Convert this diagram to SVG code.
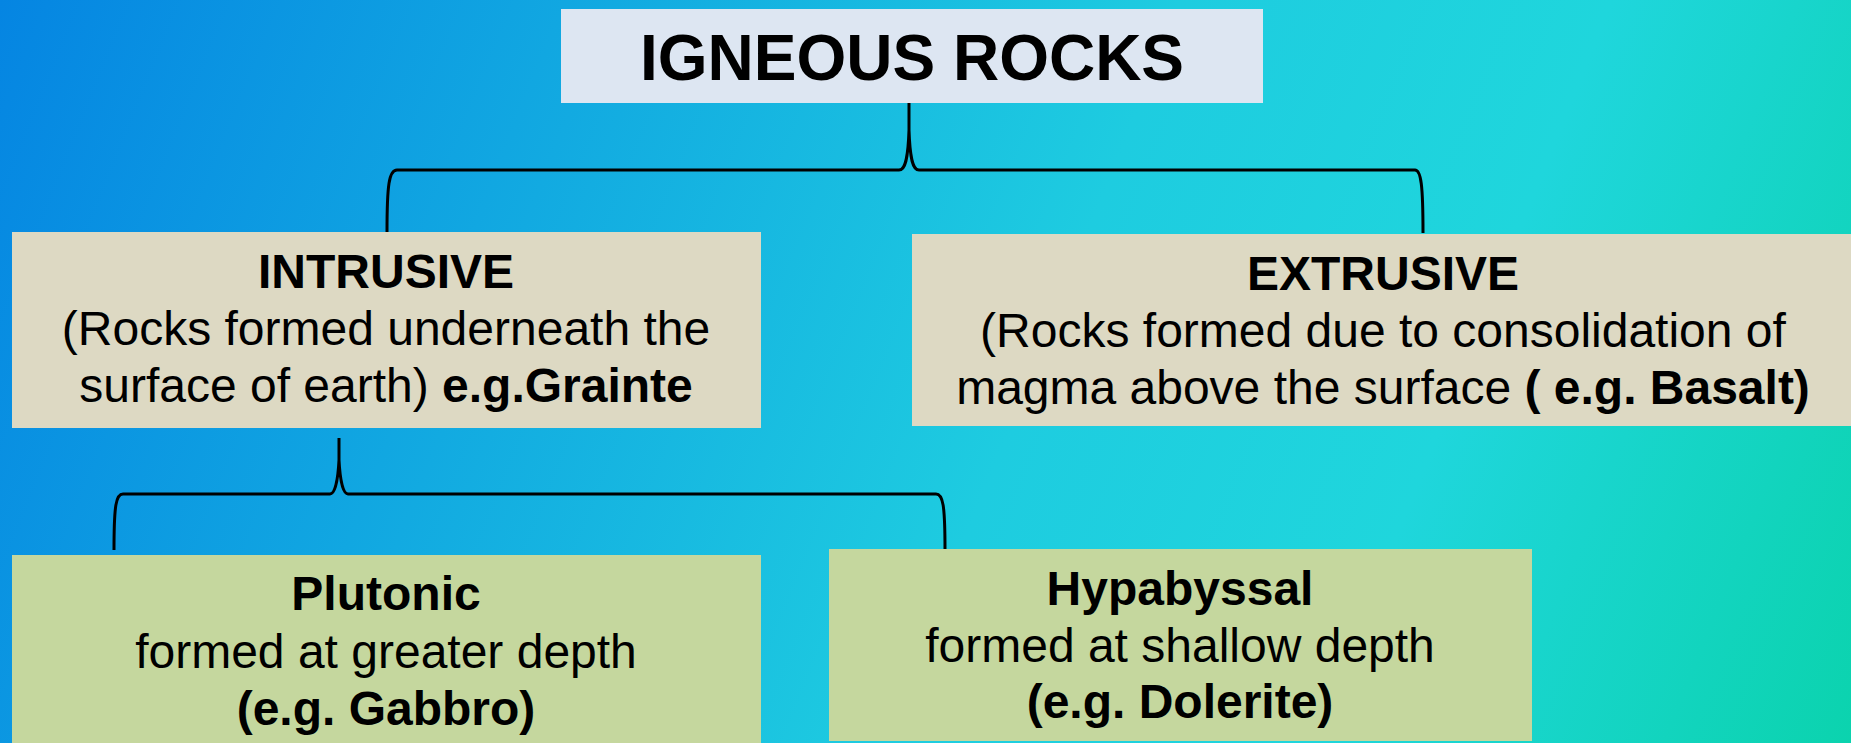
<svg xmlns="http://www.w3.org/2000/svg" width="1851" height="743" viewBox="0 0 1851 743">
<defs>
<linearGradient id="bg" x1="0" y1="0" x2="1851" y2="743" gradientUnits="userSpaceOnUse">
<stop offset="0" stop-color="#0585e2"/>
<stop offset="0.55" stop-color="#1ecce0"/>
<stop offset="0.75" stop-color="#1fd6dc"/>
<stop offset="1" stop-color="#0bd3ae"/>
</linearGradient>
<style>
text{font-family:"Liberation Sans",Arial,sans-serif;fill:#000;text-anchor:middle}
.t{font-size:64px;font-weight:bold}
.h{font-size:48px;font-weight:bold}
.b{font-size:48px}
.bo{font-weight:bold}
.beige{fill:#ddd9c3}
.green{fill:#c5d79e}
.brace{fill:none;stroke:#000;stroke-width:3}
</style>
</defs>
<rect width="1851" height="743" fill="url(#bg)"/>
<g id="connectors">
<path class="brace" d="M387 232 C387 185 389 170 397 170 L899 170 C905 170 908 160 909 130 L909 103 M909 130 C910 160 913 170 919 170 L1415 170 C1421 170 1423 185 1423 233"/>
<path class="brace" d="M114 550 C114 505 116 494 123 494 L330 494 C335 494 338 480 339 460 L339 438 M339 460 C340 480 343 494 348 494 L936 494 C943 494 945 505 945 550"/>
</g>
<g id="igneous">
<rect x="561" y="9" width="702" height="94" fill="#dde6f2"/>
<text class="t" x="912" y="80">IGNEOUS ROCKS</text>
</g>
<g id="intrusive">
<rect class="beige" x="12" y="232" width="749" height="196"/>
<text class="h" x="386" y="288">INTRUSIVE</text>
<text class="b" x="386" y="345">(Rocks formed underneath the</text>
<text class="b" x="386" y="402">surface of earth) <tspan class="bo">e.g.Grainte</tspan></text>
</g>
<g id="extrusive">
<rect class="beige" x="912" y="234" width="939" height="192"/>
<text class="h" x="1383" y="290">EXTRUSIVE</text>
<text class="b" x="1383" y="347">(Rocks formed due to consolidation of</text>
<text class="b" x="1383" y="404">magma above the surface <tspan class="bo">( e.g. Basalt)</tspan></text>
</g>
<g id="plutonic">
<rect class="green" x="12" y="555" width="749" height="188"/>
<text class="h" x="386" y="610">Plutonic</text>
<text class="b" x="386" y="668">formed at greater depth</text>
<text class="h" x="386" y="725">(e.g. Gabbro)</text>
</g>
<g id="hypabyssal">
<rect class="green" x="829" y="549" width="703" height="192"/>
<text class="h" x="1180" y="605">Hypabyssal</text>
<text class="b" x="1180" y="662">formed at shallow depth</text>
<text class="h" x="1180" y="718">(e.g. Dolerite)</text>
</g>
</svg>
